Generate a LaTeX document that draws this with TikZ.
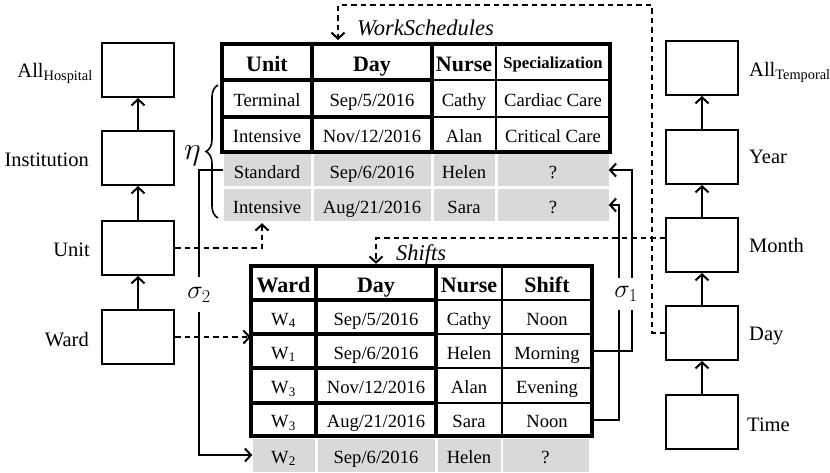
\RequirePackage{fix-cm}
\documentclass[tikz,border=0pt]{standalone}
\usepackage{fontspec}
\setmainfont{Liberation Serif}
\usetikzlibrary{arrows.meta,decorations.pathreplacing,calc}
\definecolor{gr}{HTML}{D9D9D9}
\begin{document}
\begin{tikzpicture}[x=1pt,y=-1pt,
  hbox/.style={draw, line width=2pt, minimum width=72pt, minimum height=54pt, inner sep=0pt},
  lab/.style={font=\fontsize{20.5}{24}\selectfont, inner sep=0pt},
  arr/.style={line width=2pt, -{Straight Barb[length=6pt,width=13pt]}},
  darr/.style={line width=2pt, dash pattern=on 5.5pt off 4pt, -{Straight Barb[length=6pt,width=13pt]}},
  cell/.style={inner sep=0pt, font=\fontsize{18.6}{20}\selectfont, text height=16pt, text depth=0pt},
  gcell/.style={cell, fill=gr},
  hcell/.style={inner sep=0pt, font=\bfseries\fontsize{22}{24}\selectfont, text height=19pt, text depth=0pt},
  ttl/.style={inner sep=0pt, font=\itshape\fontsize{22.5}{24}\selectfont, anchor=base west},
  thk/.style={line width=3.4pt},
  thn/.style={line width=2.2pt},
  sig/.style={fill=white, inner sep=0pt, font=\fontsize{26}{30}\selectfont}
]
\useasboundingbox (0,0) rectangle (830,472);

% ---------- hierarchies ----------
\node[hbox] (allh) at (138,70) {};
\node[hbox] (inst) at (138,158) {};
\node[hbox] (unit) at (138,248) {};
\node[hbox] (ward) at (138,337) {};
\node[lab, anchor=base east] (lallh) at ([xshift=-8pt,yshift=-7pt]allh.west) {All\textsubscript{Hospital}};
\node[lab, anchor=base east] (linst) at ([xshift=-12pt,yshift=-8.5pt]inst.west) {Institution};
\node[lab, anchor=base east] (lunit) at ([xshift=-11pt,yshift=-8pt]unit.west) {Unit};
\node[lab, anchor=base east] (lward) at ([xshift=-12pt,yshift=-9.5pt]ward.west) {Ward};
\draw[arr] (inst) -- (allh);
\draw[arr] (unit) -- (inst);
\draw[arr] (ward) -- (unit);

\node[hbox] (allt) at (702,68) {};
\node[hbox] (year) at (702,157) {};
\node[hbox] (month) at (702,245) {};
\node[hbox] (day) at (702,333) {};
\node[hbox] (time) at (702,422) {};
\node[lab, anchor=base west] (lallt) at ([xshift=10pt,yshift=-8pt]allt.east) {All\textsubscript{Temporal}};
\node[lab, anchor=base west] (lyear) at ([xshift=10pt,yshift=-6pt]year.east) {Year};
\node[lab, anchor=base west] (lmonth) at ([xshift=10pt,yshift=-7pt]month.east) {Month};
\node[lab, anchor=base west] (lday) at ([xshift=10pt,yshift=-7pt]day.east) {Day};
\node[lab, anchor=base west] (ltime) at ([xshift=8pt,yshift=-9.5pt]time.east) {Time};
\draw[arr] (year) -- (allt);
\draw[arr] (month) -- (year);
\draw[arr] (day) -- (month);
\draw[arr] (time) -- (day);

% ---------- WorkSchedules ----------
\node[ttl] (wst) at (357,35) {WorkSchedules};
\node[hcell, minimum width=90pt] (tH1) at (267,62) {Unit};
\node[hcell, minimum width=120pt] (tH2) at (372,62) {Day};
\node[hcell, minimum width=64pt] (tH3) at (464,62) {Nurse};
\node[hcell, minimum width=114pt, font=\bfseries\fontsize{16.7}{18}\selectfont, text height=12pt] (tH4) at (553,62) {Specialization};

\node[cell, minimum width=90pt] (t11) at (267,98.5) {Terminal};
\node[cell, minimum width=120pt] (t12) at (372,98.5) {Sep/5/2016};
\node[cell, minimum width=64pt] (t13) at (464,98.5) {Cathy};
\node[cell, minimum width=114pt] (t14) at (553,98.5) {Cardiac Care};

\node[cell, minimum width=90pt] (t21) at (267,134.5) {Intensive};
\node[cell, minimum width=120pt] (t22) at (372,134.5) {Nov/12/2016};
\node[cell, minimum width=64pt] (t23) at (464,134.5) {Alan};
\node[cell, minimum width=114pt] (t24) at (553,134.5) {Critical Care};

\node[gcell, minimum width=87pt, minimum height=32pt] (t31) at (267,170) {Standard};
\node[gcell, minimum width=117pt, minimum height=32pt] (t32) at (372,170) {Sep/6/2016};
\node[gcell, minimum width=61pt, minimum height=32pt] (t33) at (464,170) {Helen};
\node[gcell, minimum width=111pt, minimum height=32pt] (t34) at (553,170) {?};

\node[gcell, minimum width=87pt, minimum height=32pt] (t41) at (267,205) {Intensive};
\node[gcell, minimum width=117pt, minimum height=32pt] (t42) at (372,205) {Aug/21/2016};
\node[gcell, minimum width=61pt, minimum height=32pt] (t43) at (464,205) {Sara};
\node[gcell, minimum width=111pt, minimum height=32pt] (t44) at (553,205) {?};

\draw[thn] (432,80) -- (610,80) (432,117) -- (610,117) (496,44) -- (496,152);
\draw[thk] (312,44) -- (312,152) (432,44) -- (432,152) (222,80) -- (432,80) (222,117) -- (432,117);
\draw[thk] (222,44) rectangle (610,152);

% ---------- Shifts ----------
\node[ttl] (sht) at (396,260) {Shifts};
\node[hcell, minimum width=65pt] (sH1) at (283.5,283) {Ward};
\node[hcell, minimum width=120pt, minimum height=34pt] (sH2) at (376,283) {Day};
\node[hcell, minimum width=66pt] (sH3) at (469,283) {Nurse};
\node[hcell, minimum width=90pt] (sH4) at (547,283) {Shift};

\node[cell, minimum width=65pt] (s11) at (283.5,317) {W\textsubscript{4}};
\node[cell, minimum width=120pt] (s12) at (376,317) {Sep/5/2016};
\node[cell, minimum width=66pt] (s13) at (469,317) {Cathy};
\node[cell, minimum width=90pt] (s14) at (547,317) {Noon};

\node[cell, minimum width=65pt] (s21) at (283.5,351) {W\textsubscript{1}};
\node[cell, minimum width=120pt] (s22) at (376,351) {Sep/6/2016};
\node[cell, minimum width=66pt] (s23) at (469,351) {Helen};
\node[cell, minimum width=90pt] (s24) at (547,351) {Morning};

\node[cell, minimum width=65pt] (s31) at (283.5,385.5) {W\textsubscript{3}};
\node[cell, minimum width=120pt] (s32) at (376,385.5) {Nov/12/2016};
\node[cell, minimum width=66pt] (s33) at (469,385.5) {Alan};
\node[cell, minimum width=90pt] (s34) at (547,385.5) {Evening};

\node[cell, minimum width=65pt] (s41) at (283.5,419.5) {W\textsubscript{3}};
\node[cell, minimum width=120pt] (s42) at (376,419.5) {Aug/21/2016};
\node[cell, minimum width=66pt] (s43) at (469,419.5) {Sara};
\node[cell, minimum width=90pt] (s44) at (547,419.5) {Noon};

\node[gcell, minimum width=62pt, minimum height=33pt] (s51) at (283.5,455) {W\textsubscript{2}};
\node[gcell, minimum width=117pt, minimum height=33pt] (s52) at (376,455) {Sep/6/2016};
\node[gcell, minimum width=63pt, minimum height=33pt] (s53) at (469,455) {Helen};
\node[gcell, minimum width=86pt, minimum height=33pt] (s54) at (545.5,455) {?};

\draw[thn] (436,300) -- (592,300) (436,334) -- (592,334) (436,368) -- (592,368) (436,403) -- (592,403) (502,266) -- (502,436);
\draw[thk] (316,266) -- (316,436) (436,266) -- (436,436)
  (251,300) -- (436,300) (251,334) -- (436,334) (251,368) -- (436,368) (251,403) -- (436,403);
\draw[thk] (251,266) rectangle (592,436);

% ---------- connectors ----------
\coordinate (wsin) at (338,40);
\draw[darr] (day.west) -- ++(-13,0) |- ([yshift=35pt]wsin) -- (wsin);
\draw[darr, shorten >=2pt] ([yshift=7pt]month.west) -| (sH2.north);
\draw[darr, shorten >=2pt] (unit.east) -| ([xshift=-5pt]t41.south);
\draw[darr] (ward.east) -- (ward.east -| sH1.west);

\draw[arr] (t31.west) -- ++(-24.5,0) |- (s51.west);
\draw[arr] (s24.east) -- ++(40,0) |- (t34.east);
\draw[arr] (s44.east) -- ++(27,0) |- (t44.east);

\node[sig, minimum height=35pt, minimum width=14pt] (sig2) at (199,294.5) {$\sigma_2$};
\node[sig, minimum height=32pt, minimum width=20pt] (sig1) at (626,294) {$\sigma_1$};

\draw[line width=1.6pt, decorate, decoration={brace, amplitude=12pt}] (218,218) -- (218,85);
\node[inner sep=0pt, font=\fontsize{32}{36}\selectfont] (eta) at (192.5,156) {$\eta$};
\end{tikzpicture}
\end{document}
